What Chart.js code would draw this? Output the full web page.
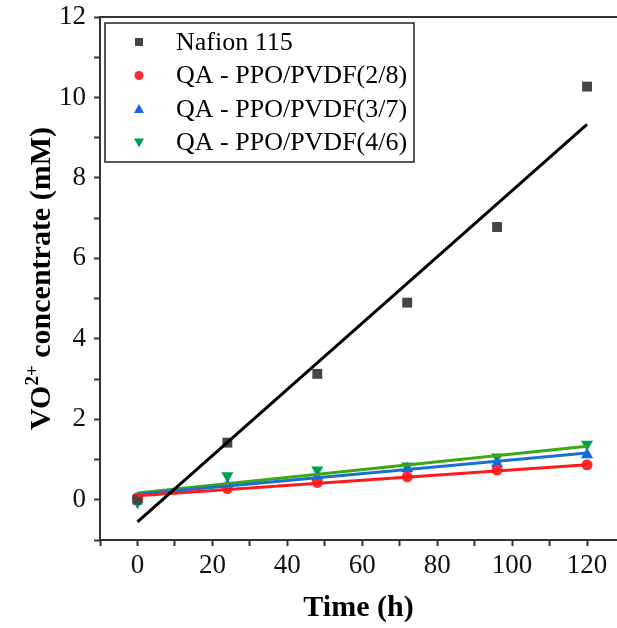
<!DOCTYPE html>
<html>
<head>
<meta charset="utf-8">
<script src="https://cdn.jsdelivr.net/npm/chart.js@4.4.1/dist/chart.umd.min.js"></script>
<style>
  html, body { margin: 0; padding: 0; background: #fff; }
  canvas { display: block; }
</style>
</head>
<body>
<canvas id="vo2Chart" width="617" height="628"></canvas>
<script>
const times = [0, 24, 48, 72, 96, 120];

const seriesNames = ["Nafion 115", "QA - PPO/PVDF(2/8)", "QA - PPO/PVDF(3/7)", "QA - PPO/PVDF(4/6)"];
const nafion = [0.0, 1.42, 3.13, 4.9, 6.78, 10.27];
const ppo28 = [0.05, 0.28, 0.43, 0.57, 0.74, 0.87];
const ppo37 = [0.02, 0.36, 0.56, 0.77, 0.9, 1.12];
const ppo46 = [-0.06, 0.6, 0.74, 0.84, 1.06, 1.38];

// linear fit endpoints read at t = 0 and t = 120
const fitTimes = [0, 120];
const nafionFit = [-0.55, 9.33];
const ppo28Fit = [0.1, 0.87];
const ppo37Fit = [0.14, 1.16];
const ppo46Fit = [0.17, 1.33];

const yTicks = [0, 2, 4, 6, 8, 10, 12];
const xTicks = [0, 20, 40, 60, 80, 100, 120];
const xMax = 128;

const markerColors = ["#454545", "#ff2b2b", "#1766de", "#00a152"];
const lineColors = ["#000000", "#ff1a1a", "#1a70d2", "#3aaa14"];
const markerStyles = ["rect", "circle", "triangle", "triangle"];
const markerRotations = [0, 0, 0, 180];
const markerRadius = [7, 5.5, 7, 7];

const values = [nafion, ppo28, ppo37, ppo46];
const fits = [nafionFit, ppo28Fit, ppo37Fit, ppo46Fit];

const serif = "'Liberation Serif', 'Times New Roman', serif";

function pts(xs, ys) {
  return xs.map((x, i) => ({ x: x, y: ys[i] }));
}

const datasets = [];
fits.forEach((f, i) => {
  datasets.push({
    label: seriesNames[i] + " fit",
    data: pts(fitTimes, f),
    showLine: true,
    borderColor: lineColors[i],
    borderWidth: 3,
    pointRadius: 0,
    order: 1
  });
});
values.forEach((v, i) => {
  datasets.push({
    label: seriesNames[i],
    data: pts(times, v),
    showLine: false,
    pointStyle: markerStyles[i],
    rotation: markerRotations[i],
    pointRadius: markerRadius[i],
    pointBackgroundColor: markerColors[i],
    pointBorderColor: markerColors[i],
    pointBorderWidth: 0,
    order: 2
  });
});

const framePlugin = {
  id: "frame",
  afterDraw(chart) {
    const ctx = chart.ctx;
    const a = chart.chartArea;
    ctx.save();
    // top frame line
    ctx.strokeStyle = "#333";
    ctx.lineWidth = 2;
    ctx.beginPath();
    ctx.moveTo(a.left, a.top);
    ctx.lineTo(chart.width, a.top);
    ctx.stroke();

    // y axis title with superscript
    ctx.translate(50, (a.top + a.bottom) / 2);
    ctx.rotate(-Math.PI / 2);
    ctx.fillStyle = "#000";
    ctx.textBaseline = "alphabetic";
    const big = "bold 30px " + serif;
    const small = "bold 19px " + serif;
    ctx.font = big;
    const w1 = ctx.measureText("VO").width;
    const w3 = ctx.measureText(" concentrate (mM)").width;
    ctx.font = small;
    const w2 = ctx.measureText("2+").width;
    let x0 = -(w1 + w2 + w3) / 2;
    ctx.font = big;
    ctx.fillText("VO", x0, 0);
    ctx.font = small;
    ctx.fillText("2+", x0 + w1, -12);
    ctx.font = big;
    ctx.fillText(" concentrate (mM)", x0 + w1 + w2, 0);
    ctx.restore();

    // legend box
    ctx.save();
    const bx = 105, by = 23, bw = 309, bh = 139;
    ctx.strokeStyle = "#222";
    ctx.lineWidth = 1.5;
    ctx.strokeRect(bx, by, bw, bh);
    ctx.font = "26px " + serif;
    ctx.textBaseline = "middle";
    seriesNames.forEach((name, i) => {
      const cy = by + 19 + i * 33.5;
      const cx = 139;
      ctx.fillStyle = markerColors[i];
      ctx.beginPath();
      if (markerStyles[i] === "rect") {
        ctx.rect(cx - 4, cy - 4, 8, 8);
      } else if (markerStyles[i] === "circle") {
        ctx.arc(cx, cy, 4.5, 0, Math.PI * 2);
      } else if (markerRotations[i] === 0) {
        ctx.moveTo(cx, cy - 5);
        ctx.lineTo(cx + 5, cy + 4);
        ctx.lineTo(cx - 5, cy + 4);
      } else {
        ctx.moveTo(cx, cy + 5);
        ctx.lineTo(cx + 5, cy - 4);
        ctx.lineTo(cx - 5, cy - 4);
      }
      ctx.fill();
      ctx.fillStyle = "#000";
      ctx.fillText(name, 176, cy + 1);
    });
    ctx.restore();
  }
};

const ctx = document.getElementById("vo2Chart").getContext("2d");

new Chart(ctx, {
  type: "scatter",
  data: { datasets: datasets },
  options: {
    responsive: false,
    animation: false,
    layout: { autoPadding: false, padding: { top: 17, right: 0, left: 0, bottom: 0 } },
    plugins: {
      legend: { display: false },
      tooltip: { enabled: false }
    },
    scales: {
      x: {
        type: "linear",
        min: -10,
        max: xMax,
        afterFit(scale) {
          scale.height = 88;
          scale.paddingLeft = 0;
          scale.paddingRight = 0;
        },
        afterBuildTicks(scale) {
          const t = [];
          for (let v = -10; v <= 120; v += 10) t.push({ value: v });
          t.push({ value: xMax });
          scale.ticks = t;
        },
        ticks: {
          color: "#111",
          font: { family: serif, size: 27 },
          padding: 4,
          maxRotation: 0,
          autoSkip: false,
          callback: (v) => (xTicks.includes(v) ? String(v) : "")
        },
        grid: {
          drawOnChartArea: false,
          drawTicks: true,
          tickLength: 6,
          color: "#333",
          tickWidth: 2,
          tickColor: (c) => (c.tick && c.tick.value === xMax ? "rgba(0,0,0,0)" : "#333")
        },
        border: { display: true, color: "#333", width: 2 },
        title: {
          display: true,
          text: "Time (h)",
          color: "#000",
          font: { family: serif, size: 30, weight: "bold" },
          padding: { top: 0, bottom: 2 }
        }
      },
      y: {
        type: "linear",
        min: -1,
        max: 12,
        afterFit(scale) {
          scale.width = 100;
          scale.paddingTop = 0;
          scale.paddingBottom = 0;
        },
        afterBuildTicks(scale) {
          const t = [];
          for (let v = -1; v <= 12; v += 1) t.push({ value: v });
          scale.ticks = t;
        },
        ticks: {
          color: "#111",
          font: { family: serif, size: 27 },
          padding: 8,
          autoSkip: false,
          callback: (v) => (yTicks.includes(v) ? String(v) : "")
        },
        grid: { drawOnChartArea: false, drawTicks: true, tickLength: 6, color: "#333", tickWidth: 2 },
        border: { display: true, color: "#333", width: 2 }
      }
    }
  },
  plugins: [framePlugin]
});
</script>
</body>
</html>
